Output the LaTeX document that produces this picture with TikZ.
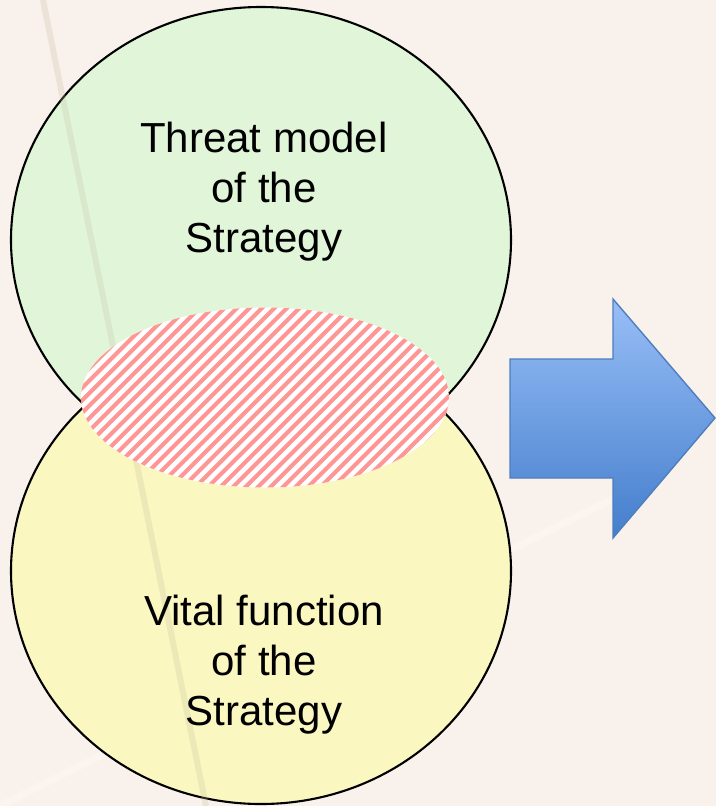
\documentclass[tikz,border=0pt]{standalone}
\usepackage{fontspec}
\setmainfont{Liberation Sans}
\usepackage{tikz}
\usetikzlibrary{positioning}
\definecolor{pageColor}{RGB}{249,241,235}
\definecolor{threatColor}{RGB}{225,246,217}
\definecolor{vitalColor}{RGB}{250,247,193}
\definecolor{stripeColor}{RGB}{255,150,150}
\definecolor{arrowTop}{RGB}{152,190,247}
\definecolor{arrowBottom}{RGB}{68,126,204}
\definecolor{arrowEdge}{RGB}{78,126,190}
\definecolor{streakColor}{RGB}{196,188,160}
\tikzstyle{diagram} = [x = 1pt, y = -1pt]
\tikzstyle{circleStyle} = [draw=black, line width=2.1pt]
\tikzstyle{circleText} = [align=center, inner sep=0pt, anchor=north, font=\fontsize{42}{50}\selectfont]
\tikzstyle{stripeLine} = [color=stripeColor, line width=4pt]
\tikzstyle{arrowStyle} = [draw=arrowEdge, line width=1.4pt, line join=miter, top color=arrowTop, bottom color=arrowBottom]
\newcommand{\overlapEllipse}{(265,397.5) ellipse [x radius=184, y radius=90]}
\newcommand{\hatchStripe}[1]{\draw [stripeLine] (#1, 495) -- + (195,-195);}

\begin{document}
\begin{tikzpicture}[diagram]
          \useasboundingbox (0,0) rectangle (716,806);
          \fill [pageColor] (0,0) rectangle (716,806);
          % faint streaks of the backdrop
          \draw [white, opacity=0.35, line width=7pt, line cap=round] (0,806) -- (620,495);

          % the two circles
          \draw [circleStyle, fill=threatColor] (261,240) ellipse [x radius=250, y radius=233];
          \draw [circleStyle, fill=vitalColor] (261,571) ellipse [x radius=250, y radius=233];
          \draw [streakColor, opacity=0.25, line width=6pt] (43,0) -- (206,806);

          % overlap
          \begin{scope}
            \clip \overlapEllipse;
            \fill [white] \overlapEllipse;
            \foreach \k in {-10,...,36} {
              \pgfmathsetmacro{\var}{12.5 * \k}
              \hatchStripe{\var}
            }
          \end{scope}

          \node [circleText] (threatText) at (264,122) {Threat model\\of the\\Strategy};
          \node [circleText] (vitalText) at (264,595) {Vital function\\of the\\Strategy};

          % arrow
          \path [arrowStyle] (510,359) -- (613,359) -- (613,299) -- (715,418)
            -- (613,538) -- (613,478) -- (510,478) -- cycle;
        \end{tikzpicture}
\end{document}
